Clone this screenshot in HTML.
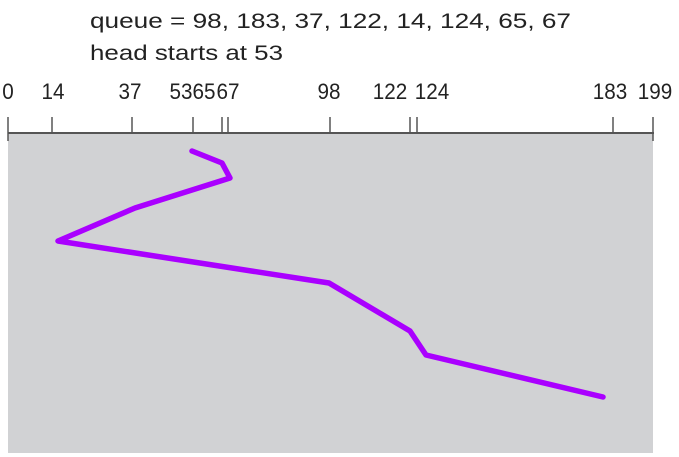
<!DOCTYPE html>
<html><head><meta charset="utf-8"><style>
html,body{margin:0;padding:0;background:#fff;}
svg{display:block;font-family:"Liberation Sans",Arial,sans-serif;}
</style></head><body>
<svg id="chart" width="679" height="457" viewBox="0 0 679 457" xmlns="http://www.w3.org/2000/svg">
<text x="90" y="28" font-size="21" fill="#222" textLength="481" lengthAdjust="spacingAndGlyphs">queue = 98, 183, 37, 122, 14, 124, 65, 67</text>
<text x="90" y="60" font-size="21" fill="#222" textLength="193" lengthAdjust="spacingAndGlyphs">head starts at 53</text>
<rect x="8" y="133" width="645" height="320" fill="#d1d2d4"/>
<line x1="8" y1="133" x2="654" y2="133" stroke="#555" stroke-width="2"/>
<g id="ticks"></g>
<polyline id="path" fill="none" stroke="#aa00ff" stroke-width="5.5" stroke-linejoin="round" stroke-linecap="round"/>
</svg>
<script>
const tickValues = [0, 14, 37, 53, 65, 67, 98, 122, 124, 183, 199];
const tickLabels = ["0","14","37","53","65","67","98","122","124","183","199"];
const cylinders = [53, 65, 67, 37, 14, 98, 122, 124, 183];
const timeSteps = [0, 4, 9, 19, 30, 44, 60, 68, 82];

// axis layout (figure uses non-uniform track spacing)
const axisPix = [8, 52, 132, 193, 222, 228, 330, 410, 417, 613, 653];
const linePix = [8, 58, 135, 192, 222, 230, 329, 410, 426, 603, 653];
const labelCenter = [8, 53, 130, 181, 204, 228, 329, 390, 432, 610, 655];
function pw(v, pix){
  for(let i=0;i<tickValues.length-1;i++){
    const a=tickValues[i], b=tickValues[i+1];
    if(v>=a && v<=b) return pix[i]+(v-a)/(b-a)*(pix[i+1]-pix[i]);
  }
  return v<0?pix[0]:pix[pix.length-1];
}
function xScale(v){ return pw(v, axisPix); }
function lineX(v){ return pw(v, linePix); }
function yScale(t){ return 151 + t*(397-151)/82; }

const NS="http://www.w3.org/2000/svg";
const g=document.getElementById('ticks');
tickValues.forEach((v,i)=>{
  const x=xScale(v);
  const l=document.createElementNS(NS,'line');
  
  
  l.setAttribute('x1',x);l.setAttribute('x2',x);l.setAttribute('y1',117);l.setAttribute('y2',v===0||v===199?141:133);
  l.setAttribute('stroke','#555');l.setAttribute('stroke-width','1.5');
  g.appendChild(l);
  const t=document.createElementNS(NS,'text');
  
  
  t.setAttribute('x',labelCenter[i]);t.setAttribute('y',99);t.setAttribute('text-anchor','middle');
  t.setAttribute('font-size','22');t.setAttribute('fill','#222');
  t.setAttribute('textLength',tickLabels[i].length*11.5);
  t.setAttribute('lengthAdjust','spacingAndGlyphs');
  t.textContent=tickLabels[i];
  g.appendChild(t);
});
document.getElementById('path').setAttribute('points',
  cylinders.map((c,i)=>lineX(c).toFixed(1)+','+yScale(timeSteps[i]).toFixed(1)).join(' '));
</script>
</body></html>
